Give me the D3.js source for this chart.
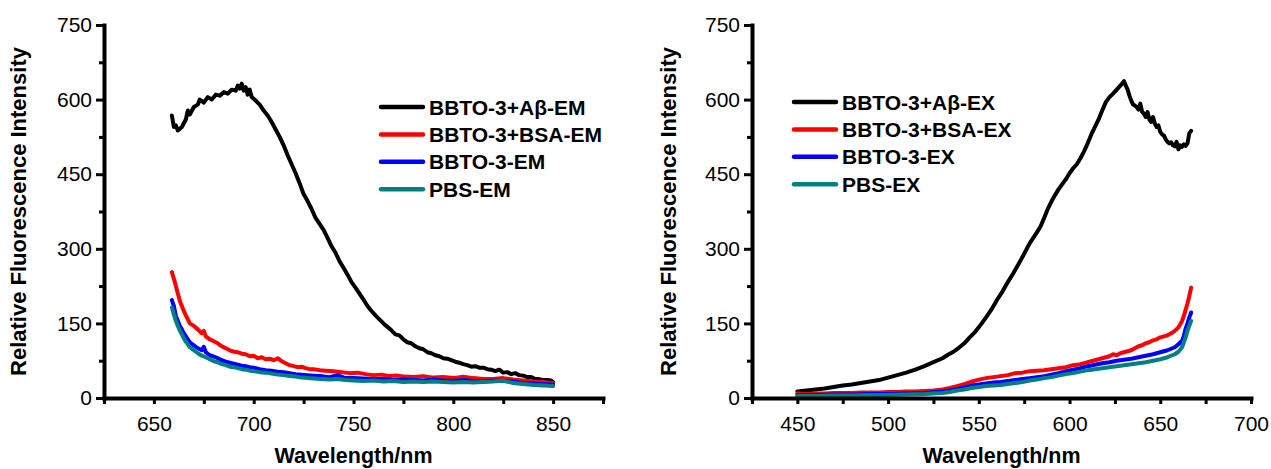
<!DOCTYPE html>
<html>
<head>
<meta charset="utf-8">
<script src="https://cdn.jsdelivr.net/npm/d3@7"></script>
<style>
  html, body { margin: 0; padding: 0; background: #fff; }
  svg { display: block; font-family: "Liberation Sans", Arial, sans-serif; }
</style>
</head>
<body>
<svg id="chart" width="1271" height="469"></svg>
<script>
// ---------------- DATA ----------------
const yMajorTicks = [0, 150, 300, 450, 600, 750];
const yMinorTicks = [75, 225, 375, 525, 675];
const emMajorTicks = [650, 700, 750, 800, 850];
const emMinorTicks = [625, 675, 725, 775, 825, 875];
const exMajorTicks = [450, 500, 550, 600, 650, 700];
const exMinorTicks = [425, 475, 525, 575, 625, 675];

const emLabels = ["BBTO-3+A\u03b2-EM", "BBTO-3+BSA-EM", "BBTO-3-EM", "PBS-EM"];
const exLabels = ["BBTO-3+A\u03b2-EX", "BBTO-3+BSA-EX", "BBTO-3-EX", "PBS-EX"];
const seriesColors = ["#000000", "#ff0000", "#0000ff", "#008080"];

// Emission spectra [wavelength nm, intensity]
const emAbeta = [[659,568],[660,545],[661,548],[662,538],[664,545],[666,560],[667,578],[668,570],[670,585],[672,590],[673,600],[675,594],[677,605],[679,600],[681,610],[683,608],[685,615],[687,612],[689,620],[691,618],[692,628],[693,622],[694,632],[695,618],[696,625],[697,610],[698,620],[699,605],[701,598],[703,590],[705,578],[707,568],[709,555],[711,540],[713,525],[715,508],[717,488],[719,470],[721,452],[723,432],[725,410],[727,396],[729,380],[731,362],[733,350],[735,338],[737,322],[739,305],[741,292],[743,275],[745,262],[747,248],[749,233],[751,222],[753,210],[755,198],[757,185],[759,175],[761,166],[763,158],[765,150],[767,143],[769,136],[771,128],[773,126],[775,118],[777,112],[779,110],[781,104],[783,100],[785,98],[787,92],[789,90],[791,86],[793,84],[795,80],[797,79],[799,76],[801,73],[803,71],[805,68],[807,66],[809,63],[811,64],[813,61],[815,61],[817,58],[819,57],[821,54],[823,57],[825,51],[827,52],[829,48],[831,50],[833,46],[835,45],[837,42],[839,42],[841,38],[843,38],[845,36],[847,36],[849,35],[850,32]];
const emBSA = [[659,253],[660,240],[661,225],[662,210],[663,195],[664,185],[665,175],[666,166],[667,158],[668,150],[670,145],[672,138],[674,130],[675,135],[676,124],[678,118],[680,114],[682,110],[684,104],[686,100],[688,96],[690,93],[692,92],[694,89],[696,88],[698,84],[700,85],[702,80],[704,82],[706,78],[708,79],[710,76],[712,80],[714,74],[716,70],[718,66],[720,64],[722,62],[724,63],[726,60],[728,58],[730,58],[733,56],[736,55],[740,54],[744,52],[748,50],[752,51],[756,48],[760,46],[764,47],[768,44],[772,45],[776,43],[780,42],[785,44],[790,41],[795,42],[800,40],[805,43],[810,40],[815,38],[820,38],[825,40],[830,37],[835,35],[840,33],[845,32],[850,30]];
const emDye = [[659,197],[660,185],[661,165],[662,155],[663,145],[664,138],[665,130],[666,124],[667,118],[668,112],[670,106],[672,100],[674,96],[675,103],[676,92],[678,86],[680,83],[682,80],[684,76],[686,73],[688,71],[690,69],[692,67],[694,65],[696,64],[698,62],[700,61],[703,58],[706,56],[709,55],[712,53],[715,52],[718,50],[721,48],[724,47],[727,46],[730,45],[734,44],[738,42],[742,46],[746,40],[750,40],[755,39],[760,38],[765,38],[770,36],[775,37],[780,36],[785,35],[790,37],[795,35],[800,34],[805,36],[810,34],[815,33],[820,35],[825,34],[830,33],[835,30],[840,29],[845,28],[850,27]];
const emPBS = [[659,182],[660,168],[661,155],[662,145],[663,135],[664,128],[665,120],[666,113],[667,108],[668,102],[670,96],[672,90],[674,85],[676,82],[678,78],[680,74],[682,72],[684,68],[686,66],[688,63],[690,62],[692,60],[694,58],[696,57],[698,55],[700,54],[703,52],[706,51],[709,49],[712,47],[715,46],[718,44],[721,43],[724,41],[727,40],[730,39],[734,38],[738,37],[742,38],[746,36],[750,35],[755,34],[760,35],[765,33],[770,34],[775,32],[780,33],[785,32],[790,33],[795,32],[800,31],[805,32],[810,31],[815,32],[820,33],[825,35],[830,30],[835,28],[840,26],[845,25],[850,24]];

// Excitation spectra [wavelength nm, intensity]
const exAbeta = [[450,13],[455,15],[460,17],[465,19],[470,22],[475,25],[480,27],[485,30],[490,33],[495,36],[500,41],[505,46],[510,51],[515,57],[520,64],[525,72],[530,80],[533,87],[536,93],[539,101],[542,110],[545,122],[548,133],[551,147],[554,162],[557,178],[560,197],[563,214],[566,233],[569,251],[572,270],[575,290],[578,311],[580,322],[582,333],[584,345],[586,362],[588,380],[590,395],[592,408],[594,420],[596,430],[598,440],[600,452],[602,462],[604,470],[606,482],[608,496],[610,512],[612,530],[614,545],[616,560],[618,578],[620,595],[622,605],[624,612],[626,620],[628,628],[629,632],[630,637],[631,628],[632,620],[633,608],[634,598],[635,590],[636,588],[637,585],[638,580],[639,592],[640,575],[641,572],[642,565],[643,575],[644,560],[645,555],[646,565],[647,552],[648,545],[649,548],[650,535],[651,530],[652,528],[653,520],[654,515],[655,512],[656,514],[657,508],[658,506],[659,515],[660,500],[661,508],[662,505],[663,510],[664,507],[665,512],[666,532],[667,537]];
const exBSA = [[450,9],[455,8],[460,9],[465,9],[470,10],[475,10],[480,10],[485,11],[490,11],[495,11],[500,12],[505,12],[510,13],[515,13],[520,14],[525,15],[530,17],[534,20],[538,24],[542,28],[546,33],[550,37],[554,40],[558,42],[562,44],[566,46],[570,50],[574,51],[578,54],[582,55],[586,56],[590,58],[594,60],[598,62],[602,66],[606,68],[610,72],[614,76],[618,80],[620,82],[622,84],[624,88],[626,86],[628,90],[630,92],[632,94],[634,96],[636,100],[638,104],[640,106],[642,110],[644,112],[646,116],[648,118],[650,122],[652,124],[654,126],[656,130],[658,135],[660,142],[662,155],[663,165],[664,178],[665,190],[666,205],[667,222]];
const exDye = [[450,6],[460,6],[470,7],[480,7],[490,8],[500,8],[510,9],[520,10],[530,13],[534,15],[538,18],[542,21],[546,25],[550,27],[554,29],[558,31],[562,32],[566,34],[570,36],[574,38],[578,40],[582,42],[586,44],[590,47],[594,50],[598,54],[602,57],[606,60],[610,64],[614,67],[618,70],[622,72],[626,75],[630,77],[634,79],[638,82],[642,85],[646,88],[650,92],[654,96],[658,102],[660,108],[662,115],[663,125],[664,140],[665,150],[666,162],[667,172]];
const exPBS = [[450,4],[460,4],[470,5],[480,5],[490,6],[500,6],[510,7],[520,8],[530,10],[534,12],[538,15],[542,17],[546,20],[550,22],[554,24],[558,25],[562,26],[566,28],[570,30],[574,32],[578,35],[582,37],[586,40],[590,42],[594,45],[598,48],[602,50],[606,53],[610,56],[614,58],[618,60],[622,62],[626,64],[630,66],[634,68],[638,70],[642,72],[646,75],[650,78],[654,82],[658,88],[660,93],[662,102],[663,112],[664,122],[665,135],[666,145],[667,155]];

// ---------------- DRAW ----------------
const svg = d3.select("#chart");
const FONT = '"Liberation Sans", Arial, sans-serif';

function drawPanel(cfg) {
  const x = d3.scaleLinear().domain(cfg.xDomain).range(cfg.xRange);
  const y = d3.scaleLinear().domain([0, 750]).range([398, 25]);
  const g = svg.append("g");

  // lines
  const line = d3.line().x(d => x(d[0])).y(d => y(d[1]));
  cfg.series.forEach((s, i) => {
    g.append("path").datum(s)
      .attr("d", line)
      .attr("fill", "none")
      .attr("stroke", seriesColors[i])
      .attr("stroke-width", 4)
      .attr("stroke-linejoin", "round")
      .attr("stroke-linecap", "round");
  });

  // minor ticks
  const yMinor = g.append("g").attr("transform", `translate(${cfg.xRange[0]},0)`)
    .call(d3.axisLeft(y).tickValues(yMinorTicks).tickSize(5).tickFormat(""));
  const xMinor = g.append("g").attr("transform", `translate(0,398)`)
    .call(d3.axisBottom(x).tickValues(cfg.xMinor).tickSize(6).tickFormat(""));
  [yMinor, xMinor].forEach(a => { a.select(".domain").remove(); a.selectAll("line").attr("stroke-width", 3); });

  // major axes
  const yAx = g.append("g").attr("transform", `translate(${cfg.xRange[0]},0)`)
    .call(d3.axisLeft(y).tickValues(yMajorTicks).tickSize(8).tickSizeOuter(0).tickPadding(4));
  const xAx = g.append("g").attr("transform", `translate(0,398)`)
    .call(d3.axisBottom(x).tickValues(cfg.xMajor).tickSize(6).tickSizeOuter(0).tickPadding(12));
  [yAx, xAx].forEach(a => {
    a.select(".domain").attr("stroke-width", 4).attr("stroke-linecap", "square");
    a.selectAll("line").attr("stroke-width", 3);
    a.selectAll("text").attr("font-size", 21).attr("font-family", FONT).attr("fill", "#000");
  });

  // axis titles
  g.append("text")
    .attr("transform", `translate(${cfg.yTitleX},${(25 + 398) / 2}) rotate(-90)`)
    .attr("text-anchor", "middle").attr("dy", "0.35em")
    .attr("font-size", 22).attr("font-weight", "bold").attr("font-family", FONT)
    .text("Relative Fluorescence Intensity");
  g.append("text")
    .attr("x", (cfg.xRange[0] + cfg.xRange[1]) / 2).attr("y", 463)
    .attr("text-anchor", "middle")
    .attr("font-size", 21.5).attr("font-weight", "bold").attr("font-family", FONT)
    .text("Wavelength/nm");

  // legend
  const lg = g.append("g").attr("transform", `translate(${cfg.legendX},${cfg.legendY})`);
  cfg.labels.forEach((lab, i) => {
    const row = lg.append("g").attr("transform", `translate(0,${i * 27.4})`);
    row.append("line").attr("x1", 0).attr("x2", 42).attr("y1", 0).attr("y2", 0)
      .attr("stroke", seriesColors[i]).attr("stroke-width", 4.5).attr("stroke-linecap", "round");
    row.append("text").attr("x", 48).attr("y", 0).attr("dy", "0.36em")
      .attr("font-size", 21).attr("font-weight", "bold").attr("font-family", FONT)
      .text(lab);
  });
}

drawPanel({
  xDomain: [625, 875], xRange: [104, 603],
  xMajor: emMajorTicks, xMinor: emMinorTicks,
  series: [emAbeta, emBSA, emDye, emPBS],
  labels: emLabels, legendX: 381, legendY: 107, yTitleX: 18
});
drawPanel({
  xDomain: [425, 700], xRange: [752, 1251],
  xMajor: exMajorTicks, xMinor: exMinorTicks,
  series: [exAbeta, exBSA, exDye, exPBS],
  labels: exLabels, legendX: 794, legendY: 102, yTitleX: 668
});
</script>
</body>
</html>
